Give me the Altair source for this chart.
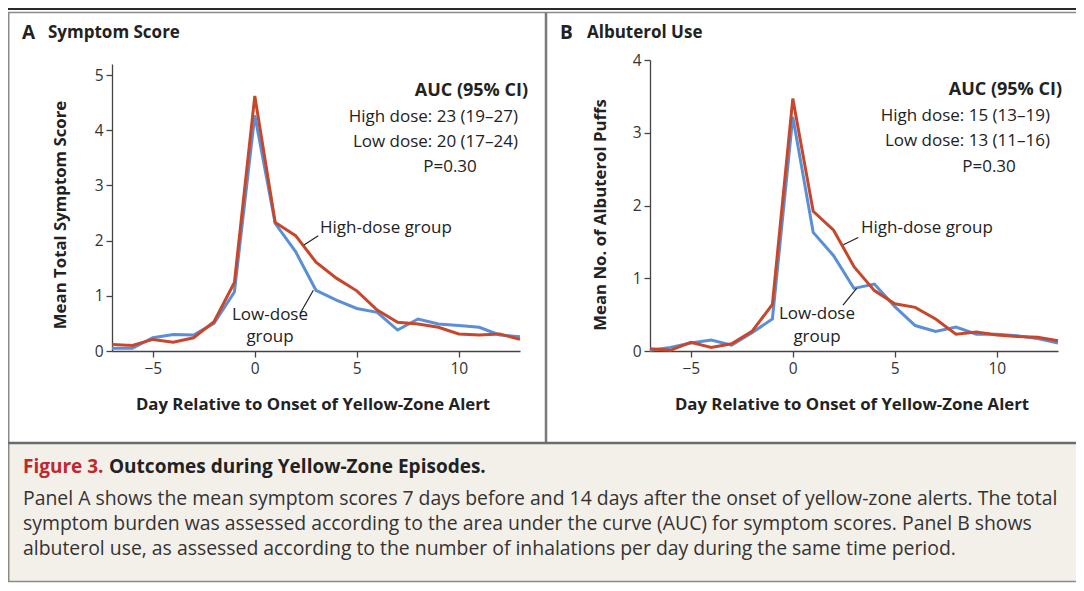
import altair as alt
import pandas as pd

# ---------------- data ----------------
days = list(range(-7, 14))
symptom_high = [0.12, 0.10, 0.21, 0.16, 0.24, 0.53, 1.24, 4.62, 2.33, 2.09, 1.61,
                1.32, 1.09, 0.74, 0.52, 0.49, 0.43, 0.31, 0.29, 0.31, 0.21]
symptom_low = [0.05, 0.05, 0.24, 0.30, 0.29, 0.50, 1.07, 4.27, 2.31, 1.80, 1.10,
               0.92, 0.77, 0.70, 0.38, 0.58, 0.49, 0.46, 0.43, 0.29, 0.26]
albuterol_high = [0.03, 0.01, 0.12, 0.05, 0.10, 0.27, 0.64, 3.47, 1.92, 1.66, 1.16,
                  0.83, 0.65, 0.60, 0.44, 0.23, 0.26, 0.22, 0.20, 0.19, 0.14]
albuterol_low = [0.01, 0.05, 0.11, 0.15, 0.08, 0.25, 0.44, 3.22, 1.63, 1.31, 0.86,
                 0.92, 0.61, 0.35, 0.27, 0.33, 0.23, 0.23, 0.21, 0.17, 0.11]

x_ticks = [-5, 0, 5, 10]
symptom_ticks = [0, 1, 2, 3, 4, 5]
albuterol_ticks = [0, 1, 2, 3, 4]

x_title = "Day Relative to Onset of Yellow-Zone Alert"
y_title_a = "Mean Total Symptom Score"
y_title_b = "Mean No. of Albuterol Puffs"
auc_a = ["AUC (95% CI)", "High dose: 23 (19\u201327)", "Low dose: 20 (17\u201324)", "P=0.30"]
auc_b = ["AUC (95% CI)", "High dose: 15 (13\u201319)", "Low dose: 13 (11\u201316)", "P=0.30"]
caption_head = "Figure 3."
caption_title = "Outcomes during Yellow-Zone Episodes."
caption_lines = [
    "Panel A shows the mean symptom scores 7 days before and 14 days after the onset of yellow-zone alerts. The total",
    "symptom burden was assessed according to the area under the curve (AUC) for symptom scores. Panel B shows",
    "albuterol use, as assessed according to the number of inhalations per day during the same time period.",
]

# ---------------- style ----------------
FONT = "Open Sans"
RED = "#c8472b"
BLUE = "#5a8fd6"
INK = "#222222"
AX = "#444444"
W, H = 1068, 575


def txt(s, x, y, size=15, weight="normal", align="left", color=INK, angle=0):
    return alt.Chart(pd.DataFrame({"label": [s]})).mark_text(
        font=FONT, fontSize=size, fontWeight=weight, align=align,
        baseline="middle", color=color, angle=angle,
    ).encode(x=alt.value(x), y=alt.value(y), text="label:N")


def hline(x1, x2, y, color, width):
    return alt.Chart(pd.DataFrame({"k": [0]})).mark_rule(color=color, strokeWidth=width).encode(
        x=alt.value(x1), x2=alt.value(x2), y=alt.value(y))


def vline(x, y1, y2, color, width):
    return alt.Chart(pd.DataFrame({"k": [0]})).mark_rule(color=color, strokeWidth=width).encode(
        x=alt.value(x), y=alt.value(y1), y2=alt.value(y2))


def panel(high, low, x_range, y_domain, y_range, y_ticks, lead_hi, lead_lo):
    df = pd.DataFrame({
        "day": days + days,
        "value": low + high,
        "group": ["low"] * len(days) + ["high"] * len(days),
    })
    xs = alt.Scale(domain=[-7, 13], range=x_range, nice=False, zero=False)
    ys = alt.Scale(domain=y_domain, range=y_range, nice=False, zero=False)
    xa = alt.Axis(values=x_ticks, orient="bottom", offset=-(H - 343), title=None, grid=False,
                  domainColor=AX, domainWidth=1.3, tickColor=AX, tickWidth=1.3, tickSize=6,
                  labelFont=FONT, labelFontSize=15.5, labelColor="#333333", labelPadding=4)
    ya = alt.Axis(values=y_ticks, orient="left", offset=-x_range[0], title=None, grid=False,
                  domainColor=AX, domainWidth=1.3, tickColor=AX, tickWidth=1.3, tickSize=6,
                  labelFont=FONT, labelFontSize=15.5, labelColor="#333333", labelPadding=3)
    X = alt.X("day:Q", scale=xs, axis=xa)
    Y = alt.Y("value:Q", scale=ys, axis=ya)
    base = alt.Chart(df).encode(x=X, y=Y)
    lo = base.transform_filter(alt.datum.group == "low").mark_line(color=BLUE, strokeWidth=3)
    hi = base.transform_filter(alt.datum.group == "high").mark_line(color=RED, strokeWidth=3)
    lead_df = pd.DataFrame({
        "day": [lead_hi[0], lead_lo[0]], "value": [lead_hi[1], lead_lo[1]],
        "day2": [lead_hi[2], lead_lo[2]], "value2": [lead_hi[3], lead_lo[3]],
    })
    leaders = alt.Chart(lead_df).mark_rule(color=INK, strokeWidth=1.2).encode(
        x=X, y=Y, x2="day2:Q", y2="value2:Q")
    return alt.layer(lo, hi, leaders)


panel_a = panel(symptom_high, symptom_low, [104, 512], [0, 5.2], [343, 56], symptom_ticks,
                (2.41, 1.92, 3.11, 2.09), (2.22, 0.68, 2.87, 1.10))
panel_b = panel(albuterol_high, albuterol_low, [642, 1050], [0, 4], [343, 52], albuterol_ticks,
                (2.48, 1.46, 3.21, 1.56), (2.46, 0.63, 3.13, 0.86))

frame = [
    alt.Chart(pd.DataFrame({"k": [0]})).mark_rect(color="#f3f0ea").encode(
        x=alt.value(0), x2=alt.value(W), y=alt.value(436), y2=alt.value(574)),
    hline(0, W, 1, "#2a2a2a", 2),
    hline(0, W, 4.5, "#8a8a8a", 1.5),
    vline(0.75, 4.5, 574, "#8a8a8a", 1.5),
    vline(538, 4.5, 435, "#7a7a7a", 2.5),
    hline(0, W, 435, "#6b6b6b", 2.5),
    hline(0, W, 573.5, "#8a8a8a", 1.5),
]

LBL = 17
CAP = 19.4
texts = [
    txt("A", 14, 25, 19, "bold"),
    txt("Symptom Score", 40, 25, 17, "bold"),
    txt("B", 552, 25, 19, "bold"),
    txt("Albuterol Use", 579, 25, 17, "bold"),
    # panel A annotations
    txt(auc_a[0], 520, 83, 18, "bold", "right"),
    txt(auc_a[1], 510, 109, LBL, "normal", "right"),
    txt(auc_a[2], 510, 134, LBL, "normal", "right"),
    txt(auc_a[3], 442, 159, LBL, "normal", "center"),
    txt("High-dose group", 312, 220, LBL),
    txt("Low-dose", 262, 307, LBL, "normal", "center"),
    txt("group", 262, 329, LBL, "normal", "center"),
    # panel B annotations
    txt(auc_b[0], 1054, 82, 18, "bold", "right"),
    txt(auc_b[1], 1042, 108, LBL, "normal", "right"),
    txt(auc_b[2], 1042, 133, LBL, "normal", "right"),
    txt(auc_b[3], 981, 159, LBL, "normal", "center"),
    txt("High-dose group", 853, 220, LBL),
    txt("Low-dose", 809, 306, LBL, "normal", "center"),
    txt("group", 809, 329, LBL, "normal", "center"),
    # axis titles
    txt(x_title, 305, 397, 16.8, "bold", "center"),
    txt(x_title, 844, 397, 16.8, "bold", "center"),
    txt(y_title_a, 53, 207, 16.8, "bold", "center", angle=270),
    txt(y_title_b, 593, 207, 16.8, "bold", "center", angle=270),
    # caption
    txt(caption_head, 15, 459, 19, "bold", color="#c1272d"),
    txt(caption_title, 101, 459, 19, "bold"),
    txt(caption_lines[0], 15, 491, CAP, color="#333333"),
    txt(caption_lines[1], 15, 516, CAP, color="#333333"),
    txt(caption_lines[2], 15, 541, CAP, color="#333333"),
]

chart = alt.layer(*frame, panel_a, panel_b, *texts).resolve_scale(
    x="independent", y="independent"
).properties(
    width=W, height=H, autosize=alt.AutoSizeParams(type="none"), padding=0,
    background="white",
).configure_view(stroke=None)

chart.save("out.html", embed_options={"renderer": "svg", "actions": False})
